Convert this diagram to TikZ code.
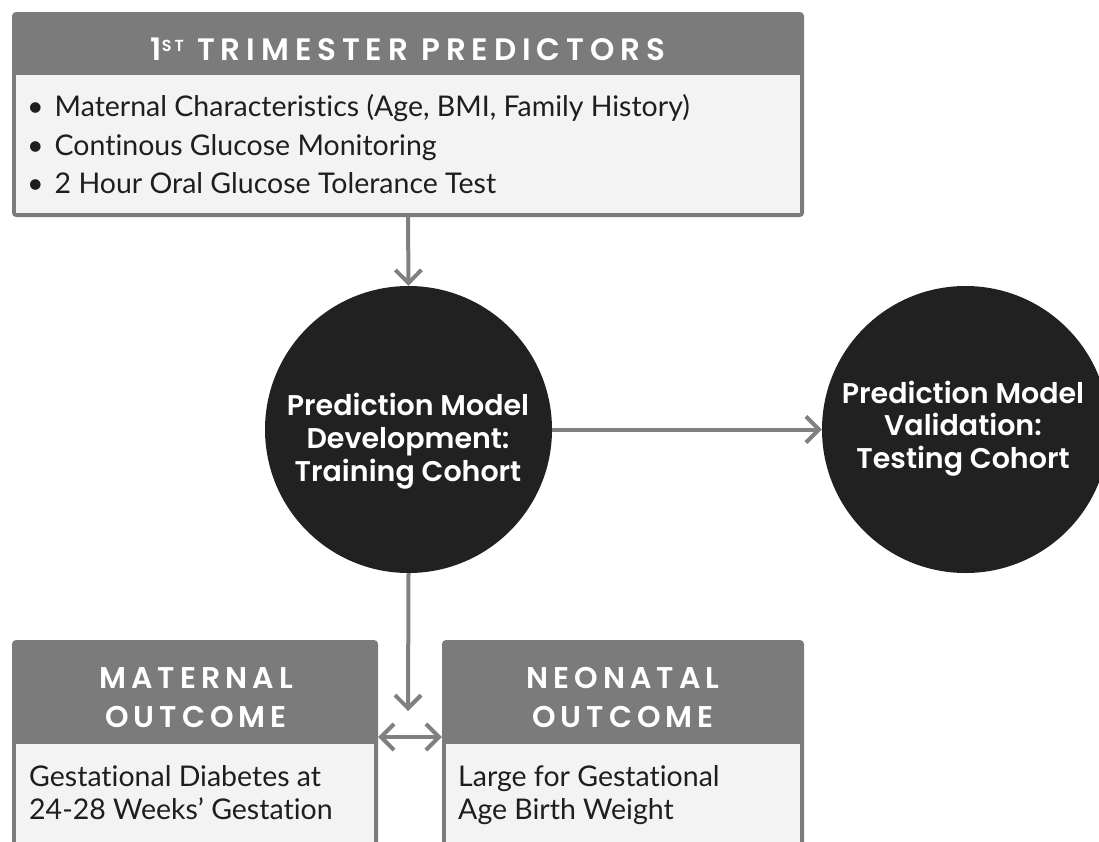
\documentclass[tikz,border=0pt]{standalone}
\usepackage{fontspec}
\setmainfont{Lato}[Ligatures={NoCommon,NoContextual,NoRequired}]
\newfontfamily\hdrfont{Poppins}[BoldFont={Poppins SemiBold}]
\usetikzlibrary{arrows.meta}
\definecolor{hdr}{HTML}{7B7B7B}
\definecolor{bodyc}{HTML}{F3F3F3}
\definecolor{circ}{HTML}{212121}
\definecolor{arr}{HTML}{808080}
\definecolor{txt}{HTML}{1E1E1E}
\begin{document}
\begin{tikzpicture}[x=1pt,y=-1pt,
  panel/.style={fill=hdr, rounded corners=4pt, inner sep=0pt, draw=none},
  panelbody/.style={fill=bodyc, inner sep=0pt, draw=none},
  hdrtxt/.style={text=white, font=\hdrfont\fontsize{30}{32}\selectfont\bfseries\addfontfeatures{LetterSpace=17}, inner sep=0pt, anchor=base},
  bodytxt/.style={text=txt, font=\fontsize{28.5}{30}\selectfont, inner sep=0pt, anchor=base west},
  circtxt/.style={text=white, font=\hdrfont\fontsize{28.5}{30}\selectfont\bfseries, inner sep=0pt, anchor=base},
  disc/.style={circle, fill=circ, minimum size=287pt, inner sep=0pt},
  conn/.style={draw=arr, line width=4pt, -{Straight Barb[length=13pt,width=26pt]}},
  dconn/.style={draw=arr, line width=4pt, {Straight Barb[length=13pt,width=26pt]}-{Straight Barb[length=13pt,width=26pt]}}
]
\useasboundingbox (0,0) rectangle (1099,841);
\clip (0,0) rectangle (1099,841);
% top box
\node[panel, minimum width=792pt, minimum height=205pt] (top) at (408,114.5) {};
\node[panelbody, minimum width=784pt, minimum height=138pt] (topb) at (408,144) {};
\node[hdrtxt, font=\hdrfont\fontsize{31}{32}\selectfont\bfseries\addfontfeatures{LetterSpace=19}] (toph) at (408,60) {1\raisebox{9pt}{\fontsize{16}{16}\selectfont ST} TRIMESTER PREDICTORS};
\node[bodytxt] (b1) at (27,116.7) {\textbullet\hspace{11pt}Maternal Characteristics (Age, BMI, Family History)};
\node[bodytxt] (b2) at (27,155) {\textbullet\hspace{11pt}Continous Glucose Monitoring};
\node[bodytxt] (b3) at (27,193.3) {\textbullet\hspace{11pt}2 Hour Oral Glucose Tolerance Test};
% circles
\node[disc] (c1) at (408.5,429.5) {};
\node[circtxt] (c1a) at (408,415) {Prediction Model};
\node[circtxt] (c1b) at (408,448) {Development:};
\node[circtxt] (c1c) at (408,481.5) {Training Cohort};
\node[disc] (c2) at (965.5,429.5) {};
\node[circtxt] (c2a) at (963,403.3) {Prediction Model};
\node[circtxt] (c2b) at (963,435.7) {Validation:};
\node[circtxt] (c2c) at (963,468.5) {Testing Cohort};
% bottom boxes
\node[panel, minimum width=366pt, minimum height=260pt] (lbox) at (195,770) {};
\node[panelbody, minimum width=358pt, minimum height=160pt] (lbody) at (195,824) {};
\node[hdrtxt] (lh1) at (196,688.3) {MATERNAL};
\node[hdrtxt] (lh2) at (196,727.3) {OUTCOME};
\node[bodytxt] (l1) at (29,786.7) {Gestational Diabetes at};
\node[bodytxt] (l2) at (29,819) {24-28 Weeks’ Gestation};
\node[panel, minimum width=362pt, minimum height=260pt] (rbox) at (623,770) {};
\node[panelbody, minimum width=354pt, minimum height=160pt] (rbody) at (623,824) {};
\node[hdrtxt] (rh1) at (623,688.3) {NEONATAL};
\node[hdrtxt] (rh2) at (623,727.3) {OUTCOME};
\node[bodytxt] (r1) at (458,786.7) {Large for Gestational};
\node[bodytxt] (r2) at (458,819) {Age Birth Weight};
% connectors
\coordinate (tip) at (408,711);
\coordinate (mid) at (408,737);
\draw[conn] (top.south) -- (c1.north);
\draw[conn] (c1.east) -- (c2.west);
\draw[conn] (c1.south) -- (tip);
\draw[dconn] (lbox.east |- mid) -- (rbox.west |- mid);
\end{tikzpicture}
\end{document}
